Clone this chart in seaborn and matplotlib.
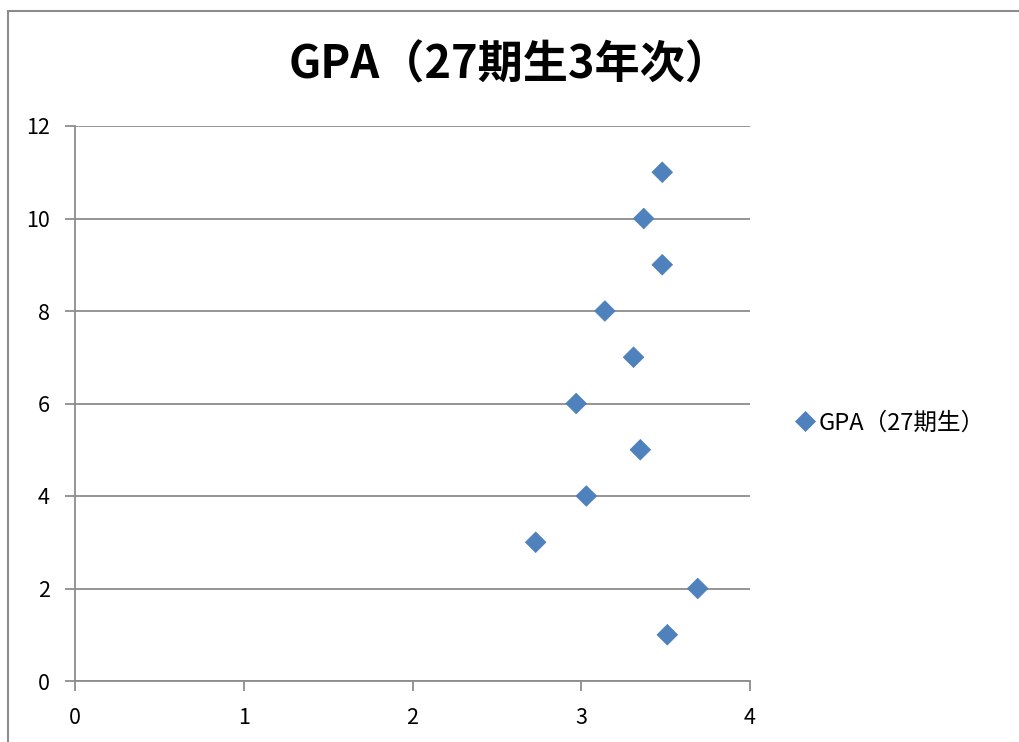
import numpy as np
import pandas as pd
import matplotlib
matplotlib.use("Agg")
import matplotlib.pyplot as plt
import seaborn as sns
from matplotlib.patches import Rectangle

# GPA values (x) against student number (y)
student_no = [11, 10, 9, 8, 7, 6, 5, 4, 3, 2, 1]
gpa = [3.48, 3.37, 3.48, 3.14, 3.31, 2.97, 3.35, 3.03, 2.73, 3.69, 3.51]
series_name = "GPA（27期生）"
title = "GPA（27期生3年次）"

sns.set_style("white")
plt.rcParams['font.family'] = ['Noto Sans CJK JP', 'DejaVu Sans']
plt.rcParams['text.color'] = "black"
plt.rcParams['xtick.color'] = "black"
plt.rcParams['ytick.color'] = "black"

df = pd.DataFrame({"gpa": gpa, "no": student_no, "series": series_name})

fig = plt.figure(figsize=(10.19, 7.42), dpi=100)
ax = fig.add_axes([75 / 1019, 61 / 742, 675 / 1019, 555 / 742])

sns.scatterplot(data=df, x="gpa", y="no", hue="series", palette=["#4F81BD"],
                marker="D", s=110, edgecolor="#4A7EBB", linewidth=0.5, ax=ax, zorder=3)

ax.set_xlim(0, 4)
ax.set_ylim(0, 12)
ax.set_xticks(range(0, 5))
ax.set_yticks(range(0, 13, 2))
ax.set_xlabel("")
ax.set_ylabel("")
ax.yaxis.grid(True, color="#8c8c8c", linewidth=1.3)
ax.set_axisbelow(True)
for side in ["top", "right"]:
    ax.spines[side].set_visible(False)
for side in ["left", "bottom"]:
    ax.spines[side].set_color("#8c8c8c")
    ax.spines[side].set_linewidth(1.3)
ax.tick_params(axis="both", direction="out", length=7, width=1.3, color="#8c8c8c",
               labelsize=15.5, left=True, bottom=True, labelcolor="black")
ax.tick_params(axis="y", pad=11)
ax.tick_params(axis="x", pad=12)

fig.text(0.5, 0.912, title, ha="center", va="center", fontsize=32.5, fontweight="bold")

leg = ax.legend(loc="center left", bbox_to_anchor=(1.052, 0.465), frameon=False,
                fontsize=17, handletextpad=0.1, handlelength=0.9,
                borderaxespad=0, markerscale=1.0)

# outer chart border
fig.patches.append(Rectangle((8 / 1019, -0.1), 1.1, 731 / 742 + 0.1, transform=fig.transFigure,
                             fill=False, edgecolor="#8c8c8c", linewidth=1.5))

fig.savefig("out.png", dpi=100)
